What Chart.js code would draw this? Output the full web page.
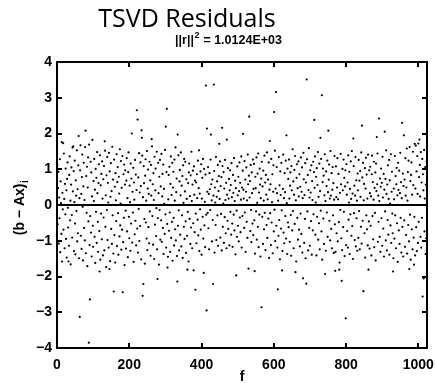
<!DOCTYPE html>
<html>
<head>
<meta charset="utf-8">
<script src="https://cdn.jsdelivr.net/npm/chart.js@4.4.1/dist/chart.umd.min.js"></script>
<style>
  html, body { margin: 0; padding: 0; background: #fff; }
  #wrap { position: relative; width: 436px; height: 383px; }
  #chart { display: block; }
  .frame { position: absolute; background: #000; pointer-events: none; }
</style>
</head>
<body>
<div id="wrap"><canvas id="chart" width="436" height="383"></canvas></div>
<script>
// residuals (b - Ax)_i for i = 1..1024, 32 per row
var residuals = [
  1.12, -0.54, 0.47, 0.93, -1.08, 0.21, -0.37, 1.28, -1.32, 0.66, 0.05, -0.81, 1.76, -1.58, 0.34, -0.12, 0.88, -0.69, 1.44, 0.17, -1.21, 0.59, -0.26, 1.02, -0.95, 0.41, -1.47, 0.73, 1.19, -0.08, -0.63, 0.29,
  -1.14, 0.84, 1.36, -0.43, 0.12, -1.66, 0.57, 1.05, -0.28, -0.91, 1.61, 0.38, -0.71, 0.95, -1.29, 0.08, 1.24, -0.52, -1.38, 0.69, 0.26, -0.17, 1.53, -1.02, 0.44, -0.79, 1.11, 0.63, -1.49, 0.19, -0.34, 0.97,
  1.67, -0.86, 0.31, -1.23, 0.78, 1.41, -0.05, -1.55, 0.52, 1.18, -0.64, 0.14, -0.99, 1.62, 0.36, -1.35, 0.81, -0.22, 1.07, -1.71, 0.49, 1.33, -0.46, 0.02, 1.69, -1.12, 0.58, -0.31, 1.21, -0.77, 0.91, -1.44,
  0.24, 1.58, -0.58, -1.17, 0.67, 0.11, 1.29, -0.89, 0.43, -1.62, 1.01, -0.19, 0.76, -1.06, 1.48, 0.33, -0.47, -1.31, 0.61, 1.14, -0.73, 0.09, 1.39, -1.53, 0.55, -0.24, 0.87, -0.96, 1.22, 0.18, -1.41, 0.72,
  -0.35, 1.09, -1.27, 0.46, 1.52, -0.61, 0.27, -1.74, 0.83, -0.14, 1.34, -0.98, 0.62, 0.07, -1.19, 1.46, -0.41, 0.94, -1.57, 0.23, 1.17, -0.67, 0.39, -1.09, 1.63, -0.29, 0.71, -1.36, 0.16, 1.27, -0.84, 0.51,
  -1.61, 0.89, 0.13, -0.45, 1.42, -1.15, 0.64, 1.06, -0.23, -1.39, 0.79, 0.32, -0.88, 1.56, -0.57, 0.04, 1.23, -1.25, 0.48, -0.69, 1.37, 0.21, -1.04, 0.86, -0.36, 1.13, -1.68, 0.57, 0.97, -0.16, -1.22, 0.68,
  1.31, -0.74, 0.19, -1.46, 0.92, 1.47, -0.33, -0.93, 0.54, 0.08, -1.28, 1.16, -0.52, 0.74, 1.59, -1.05, 0.37, -0.21, 1.04, -1.59, 0.63, 0.15, -0.82, 1.26, -0.44, 0.85, -1.13, 0.42, 1.55, -0.66, 0.28, -1.33,
  0.77, -0.11, 1.45, -1.01, 0.35, -0.59, 1.19, 0.53, -1.52, 0.96, -0.27, 1.38, -0.78, 0.22, -1.18, 1.09, 0.61, -0.39, -1.64, 0.82, 1.28, -0.49, 0.12, -0.94, 1.51, -1.26, 0.46, 0.99, -0.62, 0.31, -1.07, 1.21,
  -0.18, 0.69, -1.42, 1.12, 0.26, -0.76, 1.64, -0.31, 0.58, -1.11, 0.89, 0.14, -1.51, 1.35, -0.55, 0.41, 1.02, -0.87, -0.09, 1.49, -1.24, 0.67, -0.37, 1.18, 0.33, -1.67, 0.79, -0.14, 1.26, -0.97, 0.52, -0.43,
  1.43, -1.03, 0.24, 0.87, -0.64, 1.13, -1.37, 0.45, 0.03, -0.81, 1.54, -0.26, 0.71, -1.19, 0.92, 0.38, -0.53, 1.31, -1.45, 0.16, 0.84, -0.72, 1.07, -0.21, -1.31, 0.59, 1.36, -0.92, 0.28, -0.47, 1.18, -1.56,
  0.49, 0.93, -0.36, -1.13, 1.27, 0.12, -0.68, 1.61, -0.99, 0.36, 0.74, -1.43, 0.21, 1.04, -0.58, 1.39, -0.15, -1.27, 0.66, 0.98, -0.83, 0.27, 1.47, -1.16, 0.54, -0.29, 0.81, -1.48, 1.11, 0.06, -0.61, 1.29,
  -0.95, 0.38, 1.21, -0.46, -1.34, 0.72, 0.17, -0.86, 1.37, -0.19, 0.61, -1.58, 0.91, 1.16, -0.39, 0.25, -1.09, 0.83, -0.63, 1.49, 0.11, -1.21, 0.57, 0.96, -0.51, -1.44, 1.08, 0.29, -0.76, 0.68, 1.33, -0.24,
  0.63, -1.07, 0.86, 0.19, -0.41, 1.24, -0.85, 0.47, 1.53, -1.29, 0.32, -0.12, 0.94, -0.69, 1.14, -1.39, 0.18, 0.76, -0.33, 1.29, -0.94, 0.42, 1.01, -0.57, 0.09, -1.18, 0.85, 1.41, -0.27, 0.53, -0.79, 0.37,
  -0.22, 1.06, -0.65, 0.31, -1.24, 0.89, 0.44, -0.14, 1.27, -0.88, 0.58, 0.13, -1.02, 0.71, -0.42, 1.18, 0.26, -0.74, 0.95, -1.33, 0.49, 0.07, -0.56, 1.34, -0.98, 0.23, 0.66, -0.29, 1.12, -1.14, 0.39, 0.81,
  -0.48, 0.17, 1.22, -0.91, 0.53, -0.25, 0.78, -1.27, 0.35, 1.09, -0.61, 0.04, 0.92, -1.06, 0.46, -0.34, 1.26, 0.14, -0.79, 0.62, -1.21, 0.87, 0.29, -0.44, 1.03, -0.67, 0.18, 0.73, -1.13, 0.41, 0.97, -0.19,
  0.56, -0.83, 1.17, 0.22, -0.52, -1.17, 0.84, 0.34, -0.27, 1.31, -0.71, 0.11, 0.68, -1.38, 0.47, 0.93, -0.16, -0.89, 1.08, 0.27, -0.58, 0.79, -1.02, 0.39, 1.19, -0.35, 0.62, -0.76, 0.15, 1.36, -1.19, 0.49,
  -0.31, 0.96, -1.11, 0.43, 0.18, -0.64, 1.23, -0.21, 0.71, -1.31, 0.37, 1.05, -0.47, 0.13, -0.92, 1.41, 0.58, -0.36, 0.82, -1.23, 0.21, 0.67, -0.73, 1.12, -0.14, -1.04, 0.91, 0.33, -0.52, 1.27, -0.84, 0.45,
  1.15, -0.43, 0.24, -1.36, 0.79, 0.47, -0.18, 1.33, -0.97, 0.06, 0.88, -0.61, 1.44, -1.18, 0.35, -0.27, 1.02, 0.57, -1.44, 0.19, 0.74, -0.81, 1.21, -0.33, 0.52, -1.09, 0.96, 0.12, -0.68, 1.38, -0.22, 0.63,
  -1.26, 0.84, 0.29, -0.56, 1.47, -0.92, 0.16, 0.71, -0.38, 1.19, -1.48, 0.43, 0.99, -0.23, 0.58, -1.12, 1.29, -0.49, 0.08, 0.86, -1.35, 0.37, 1.11, -0.74, 0.24, -0.13, 1.52, -1.01, 0.46, 0.69, -0.58, 1.06,
  0.33, -1.19, 0.77, 0.12, -0.86, 1.34, -0.42, 0.55, -1.52, 0.94, 0.28, -0.66, 1.18, -0.15, 0.81, -1.29, 0.45, 1.41, -0.77, 0.19, -1.07, 0.89, 0.36, -0.31, 1.24, -0.94, 0.62, 0.05, -1.37, 1.02, -0.49, 0.73,
  -0.62, 1.27, 0.18, -1.03, 0.54, 0.91, -0.28, -1.42, 1.09, 0.41, -0.71, 1.56, -0.17, 0.66, -1.21, 0.29, 0.98, -0.53, 1.37, -0.88, 0.13, -1.58, 0.76, 1.14, -0.36, 0.47, -0.97, 1.22, 0.24, -0.69, 0.86, -1.16,
  0.51, -0.24, 1.33, -0.81, 0.37, 1.05, -1.33, 0.19, -0.57, 1.46, 0.72, -1.06, 0.28, -0.39, 1.17, -1.49, 0.63, 0.04, -0.92, 1.28, -0.18, 0.84, -1.27, 0.42, 1.59, -0.64, 0.21, -1.14, 0.97, 0.35, -0.45, 1.11,
  -1.39, 0.67, 0.14, -0.71, 1.21, -0.26, 0.92, -1.17, 0.48, 1.36, -0.83, 0.07, 0.79, -1.41, 1.03, -0.33, 0.56, 1.48, -0.97, 0.23, -0.51, 1.16, -1.24, 0.39, 0.87, -0.16, 1.29, -0.74, 0.31, -1.53, 0.64, 1.02,
  -0.38, 0.82, -1.09, 0.27, 1.42, -0.63, 0.11, -1.28, 0.94, 0.53, -0.21, 1.24, -0.89, 0.36, -1.46, 0.71, 1.13, -0.44, 0.18, -0.99, 1.51, 0.26, -0.67, 0.89, -1.21, 0.43, 1.06, -0.29, 0.61, -1.34, 0.15, 1.37,
  -0.54, 0.73, -1.31, 1.08, 0.22, -0.79, 0.49, 1.31, -1.02, 0.16, 0.87, -0.48, 1.19, -1.61, 0.34, -0.14, 1.43, 0.58, -0.93, 0.21, -1.26, 1.01, 0.41, -0.62, 1.27, -0.19, 0.76, -1.43, 0.52, 0.97, -0.34, -1.12,
  1.14, 0.29, -0.73, 0.63, -1.19, 1.39, -0.41, 0.07, 0.93, -1.37, 0.45, -0.26, 1.22, 0.17, -0.86, 1.51, -0.59, 0.32, -1.51, 0.81, 1.09, -0.23, 0.54, -0.98, 0.26, 1.34, -1.16, 0.69, -0.37, 0.12, -1.28, 0.88,
  0.41, -0.92, 1.26, -0.17, 0.68, -1.24, 0.95, 0.23, -0.61, 1.47, -1.08, 0.36, 0.77, -0.44, 1.18, -1.36, 0.13, 0.59, -0.79, 1.03, -1.47, 0.46, 1.32, -0.29, 0.85, -0.68, 0.18, -1.13, 1.41, 0.52, -0.46, 0.97,
  -1.22, 0.33, 1.07, -0.58, 0.24, -1.41, 0.86, 1.38, -0.31, 0.64, -0.96, 0.15, 1.21, -1.18, 0.48, -0.22, 0.91, -1.55, 1.16, 0.39, -0.73, 0.58, 1.44, -1.03, 0.26, -0.47, 1.29, 0.11, -0.89, 0.74, -1.31, 0.51,
  1.02, -0.37, 0.62, -1.14, 1.35, 0.21, -0.66, 0.87, -1.44, 0.43, 1.19, -0.18, 0.73, -0.99, 1.53, 0.31, -1.27, 0.57, -0.42, 1.11, -0.83, 0.17, 1.26, -1.39, 0.69, 0.04, -0.57, 1.42, -1.06, 0.37, 0.93, -0.24,
  -0.79, 1.23, -1.49, 0.46, 0.16, -0.94, 1.37, -0.29, 0.81, -1.21, 0.58, 1.04, -0.51, 0.27, -1.59, 1.18, 0.42, -0.71, 0.96, -1.09, 0.33, 1.46, -0.36, 0.64, -1.33, 0.19, 1.12, -0.61, 0.88, -1.44, 0.53, 1.27,
  -0.43, 0.71, -1.17, 1.31, 0.26, -0.84, 0.49, 1.58, -1.36, 0.12, 0.92, -0.56, 1.24, -1.02, 0.38, 1.62, -0.27, 0.67, -1.53, 0.84, 1.19, -0.68, 0.29, -1.24, 1.49, 0.56, -0.91, 1.07, -0.33, 1.71, -1.41, 0.46,
  1.66, -0.62, 0.94, -1.29, 1.37, 0.31, -1.06, 1.72, -0.47, 0.78, -1.58, 1.12, 0.24, -0.89, 1.48, -1.19, 0.63, -0.36, 1.29, -1.51, 0.86, 0.41, -1.12, 1.54, -0.74, 0.18, 1.06, -1.37, 0.57, -0.93, 1.21, -0.52
];

// larger residuals, these replace the entry at that index
var outlierIdx = [17, 32, 45, 60, 63, 79, 88, 91, 98, 118, 132, 145, 157, 182, 207, 221, 223, 234, 235, 237, 239, 262, 278, 301, 304, 306, 333, 334,
  361, 378, 383, 406, 412, 414, 415, 426, 432, 434, 449, 457, 470, 496, 515, 530, 532, 547, 566, 589, 601, 606, 611, 623, 635, 660, 681, 690, 691,
  712, 729, 733, 742, 751, 770, 781, 788, 799, 820, 844, 848, 862, 885, 891, 907, 930, 955, 960, 975, 988, 1003, 1012, 1015];
var outlierVal = [1.73, -1.58, 1.64, 1.93, -3.13, 2.08, -3.85, -2.64, 1.82, -1.86, 1.78, -1.79, -2.42, -2.44, 2.00, 2.65, 2.39, 2.09, 1.88, -2.54, -2.21, 1.84, -2.07, 2.19, 2.69, -1.75, -2.14, 1.97,
  -1.81, -1.83, -2.37, -1.90, 3.34, -2.95, 2.14, 1.97, -2.21, 3.37, 1.71, 2.16, 1.83, -1.97, 1.99, -1.78, 2.47, -1.85, -2.86, 1.79, 2.60, 3.16, -2.36, -1.83, 1.95, -1.88, -2.05, -2.20, 3.51,
  2.38, 1.88, 3.07, -1.93, 2.08, -1.84, -1.81, -2.12, -3.17, 1.86, 2.22, -2.41, -1.81, 1.90, 2.42, 2.05, -1.86, 2.30, 1.95, -1.79, -1.67, 1.83, -2.56, -2.05];

var X_TICKS = [0, 200, 400, 600, 800, 1000];
var Y_TICKS = [-4, -3, -2, -1, 0, 1, 2, 3, 4];
var X_MIN = 0, X_MAX = 1024, Y_MIN = -4, Y_MAX = 4;

var TITLE = 'TSVD Residuals';
var SUBTITLE_A = '||r||';
var SUBTITLE_B = ' = 1.0124E+03';
var X_LABEL = 'f';
var Y_LABEL = '(b \u2212 Ax)';

var SANS = '"Liberation Sans", Arial, sans-serif';

function buildPoints() {
  var vals = residuals.slice();
  for (var k = 0; k < outlierIdx.length; k++) {
    vals[outlierIdx[k] - 1] = outlierVal[k];
  }
  return vals.map(function(v, i) { return { x: i + 1, y: v }; });
}

function fixTicks(list) {
  return function(scale) {
    scale.ticks = list.map(function(v) { return { value: v }; });
  };
}

// rectangles for the axes box and the inward tick marks, from the chart's scales
function frameRects(chart) {
  var a = chart.chartArea;
  var xs = chart.scales.x, ys = chart.scales.y;
  var L = Math.round(a.left), R = Math.round(a.right);
  var T = Math.round(a.top), B = Math.round(a.bottom);
  var rects = [
    [L - 1, T - 1, R - L + 2, 2], [L - 1, B - 1, R - L + 2, 2],
    [L - 1, T - 1, 2, B - T + 2], [R - 1, T - 1, 2, B - T + 2]
  ];
  X_TICKS.forEach(function(v) {
    var px = Math.round(xs.getPixelForValue(v));
    rects.push([px - 1, B - 5, 2, 4], [px - 1, T + 1, 2, 4]);
  });
  Y_TICKS.forEach(function(v) {
    var py = Math.round(ys.getPixelForValue(v));
    rects.push([L + 1, py - 1, 4, 2], [R - 5, py - 1, 4, 2]);
  });
  return rects;
}

// same frame as thin html elements over the canvas
function overlayFrame(chart) {
  var wrap = document.getElementById('wrap');
  frameRects(chart).forEach(function(r) {
    var d = document.createElement('div');
    d.className = 'frame';
    d.style.left = r[0] + 'px';
    d.style.top = r[1] + 'px';
    d.style.width = r[2] + 'px';
    d.style.height = r[3] + 'px';
    wrap.appendChild(d);
  });
}

// frame, title, subtitle and axis labels
var labelPlugin = {
  id: 'labels',
  afterDraw: function(chart) {
    var ctx = chart.ctx;
    var a = chart.chartArea;
    ctx.save();
    ctx.fillStyle = '#000';
    frameRects(chart).forEach(function(r) { ctx.fillRect(r[0], r[1], r[2], r[3]); });

    ctx.textBaseline = 'alphabetic';
    ctx.font = '25px "Open Sans", Lato, sans-serif';
    ctx.textAlign = 'center';
    ctx.fillText(TITLE, 187, 27);

    ctx.font = 'bold 12.5px ' + SANS;
    var wA = ctx.measureText(SUBTITLE_A).width;
    var wB = ctx.measureText(SUBTITLE_B).width;
    ctx.font = 'bold 9px ' + SANS;
    var w2 = ctx.measureText('2').width;
    var sx = 228 - (wA + w2 + wB) / 2;
    ctx.textAlign = 'left';
    ctx.font = 'bold 12.5px ' + SANS;
    ctx.fillText(SUBTITLE_A, sx, 44);
    ctx.font = 'bold 9px ' + SANS;
    ctx.fillText('2', sx + wA + 0.5, 38);
    ctx.font = 'bold 12.5px ' + SANS;
    ctx.fillText(SUBTITLE_B, sx + wA + w2 + 1, 44);

    ctx.font = 'bold 14px ' + SANS;
    ctx.textAlign = 'center';
    ctx.fillText(X_LABEL, (a.left + a.right) / 2, 381);

    ctx.translate(24, (a.top + a.bottom) / 2 + 3);
    ctx.rotate(-Math.PI / 2);
    ctx.font = 'bold 14px ' + SANS;
    var wy = ctx.measureText(Y_LABEL).width;
    ctx.font = 'bold 10px ' + SANS;
    var wi = ctx.measureText('i').width;
    ctx.textAlign = 'left';
    ctx.font = 'bold 14px ' + SANS;
    ctx.fillText(Y_LABEL, -(wy + wi) / 2, 0);
    ctx.font = 'bold 10px ' + SANS;
    ctx.fillText('i', -(wy + wi) / 2 + wy + 0.5, 4);
    ctx.restore();
  }
};

var tickFont = { family: SANS, size: 14, weight: 'bold' };

var chart = new Chart(document.getElementById('chart'), {
  type: 'scatter',
  data: {
    datasets: [
      {
        type: 'line',
        data: [{ x: X_MIN, y: 0 }, { x: X_MAX, y: 0 }],
        borderColor: '#000',
        borderWidth: 2,
        pointRadius: 0,
        showLine: true,
        order: 0
      },
      {
        data: buildPoints(),
        pointRadius: 1.1,
        pointBorderWidth: 0,
        pointBackgroundColor: '#000',
        order: 1
      }
    ]
  },
  options: {
    responsive: false,
    animation: false,
    events: [],
    layout: { padding: { top: 62, right: 9, left: 0, bottom: 0 } },
    plugins: { legend: { display: false }, tooltip: { enabled: false }, title: { display: false } },
    scales: {
      x: {
        type: 'linear',
        min: X_MIN,
        max: X_MAX,
        afterBuildTicks: fixTicks(X_TICKS),
        afterFit: function(s) { s.height = 35; },
        grid: { display: false },
        border: { display: false },
        ticks: { color: '#000', font: tickFont, padding: 1, maxRotation: 0, autoSkip: false,
          callback: function(v) { return String(v); } }
      },
      y: {
        type: 'linear',
        min: Y_MIN,
        max: Y_MAX,
        afterBuildTicks: fixTicks(Y_TICKS),
        afterFit: function(s) { s.width = 57; },
        grid: { display: false },
        border: { display: false },
        ticks: { color: '#000', font: tickFont, padding: -3, autoSkip: false,
          callback: function(v) { return v < 0 ? '\u2212' + Math.abs(v) : String(v); } }
      }
    }
  },
  plugins: [labelPlugin]
});

overlayFrame(chart);
</script>
</body>
</html>
